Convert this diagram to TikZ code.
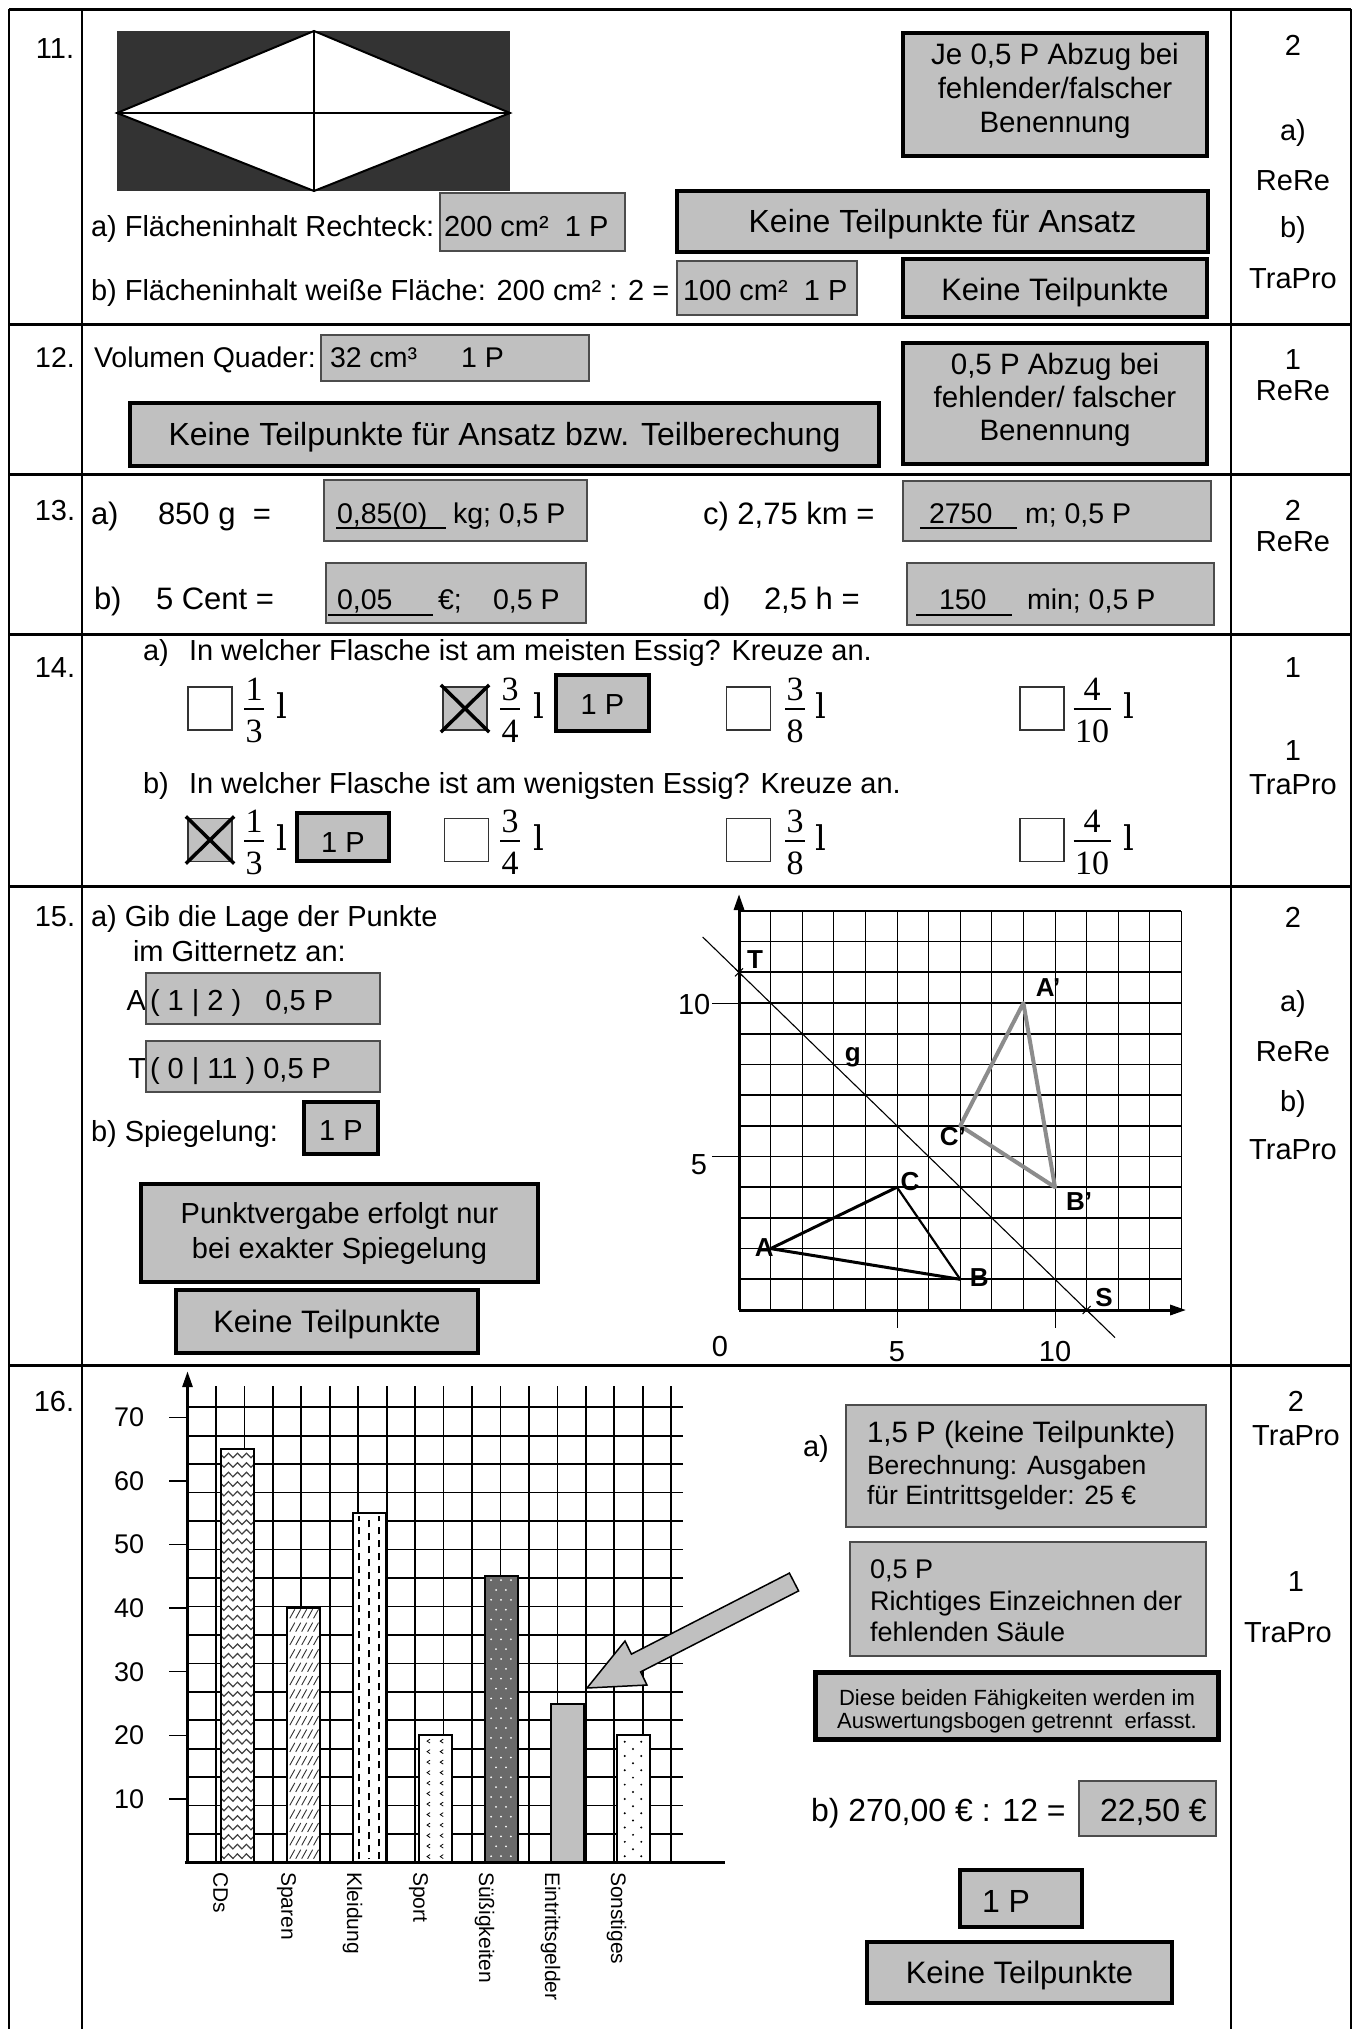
\documentclass[tikz,border=0pt]{standalone}
\usepackage{fontspec}
\setmainfont{Liberation Sans}
\newfontfamily\serifnum{Liberation Serif}
\newfontfamily\litrefont{DejaVu Serif}
\usetikzlibrary{arrows.meta,decorations.pathmorphing}
\definecolor{boxgray}{HTML}{C0C0C0}
\definecolor{figdark}{HTML}{333333}
\definecolor{mirgray}{HTML}{8C8C8C}
\definecolor{sweetgray}{HTML}{6A6A6A}
\newcommand{\fsz}[2]{\fontsize{#1}{#2}\selectfont}
% fraction: #1 name, #2 x, #3 bar y, #4 num, #5 den, #6 x of litre sign
\newcommand{\frc}[6]{%
  \node[fracnum] (#1n) at (#2,#3) {#4};
  \node[fracden] (#1d) at (#2,#3) {#5};
  \draw[line width=1.3pt] ([yshift=11pt,xshift=-1.5pt]#1d.north west) -- ([yshift=11pt,xshift=1.5pt]#1d.north east);
  \node[font=\litrefont\fsz{34}{38}, anchor=base] (#1l) at (#6,#3+9) {l};}
\begin{document}
\begin{tikzpicture}[x=1pt,y=-1pt,
  every node/.style={inner sep=0pt, outer sep=0pt},
  tb/.style={font=\fsz{29}{33}, anchor=base west},
  ctb/.style={font=\fsz{29}{33}, anchor=base},
  box/.style={draw=black!70, line width=1.3pt, fill=boxgray},
  tbox/.style={draw=black, line width=3.5pt, fill=boxgray},
  chk/.style={draw=black!80, line width=1.6pt, minimum width=44pt, minimum height=43pt, fill=white},
  fracnum/.style={font=\serifnum\fsz{34}{38}, anchor=base, yshift=9pt},
  fracden/.style={font=\serifnum\fsz{34}{38}, anchor=north, yshift=-11pt},
  tabline/.style={line width=2pt},
  rowline/.style={line width=3pt},
  lbl/.style={font=\fsz{26}{30}\bfseries, anchor=center},
  xmark/.style={line width=3.5pt, shorten <=-3pt, shorten >=-3pt},
  uline/.style={line width=1.8pt},
]
\useasboundingbox (0,0) rectangle (1361,2029);
\fill[white] (0,0) rectangle (1361,2029);

% ---------------- table ----------------
\draw[rowline] (9,9) -- (1351,9);
\foreach \yy in {324,474,634,886,1365} \draw[rowline] (9,\yy) -- (1351,\yy);
\foreach \xx in {9,82,1231,1351} \draw[tabline] (\xx,9) -- (\xx,2029);

\node[ctb] (n11) at (55,58) {11.};
\node[ctb, font=\fsz{28.5}{33}] (n12) at (55,367) {12.};
\node[ctb] (n13) at (55,520) {13.};
\node[ctb] (n14) at (55,677.5) {14.};
\node[ctb] (n15) at (55,926.5) {15.};
\node[ctb] (n16) at (54,1411) {16.};

% ---------------- row 11 ----------------
\fill[figdark] (117,31) rectangle (510,191);
\filldraw[fill=white, draw=black, line width=2pt] (117,113) -- (314,31) -- (510,113) -- (314,191) -- cycle;
\draw[line width=1.2pt] (314,31) -- (314,191);
\draw[line width=2pt] (117,113) -- (510,113);

\node[tbox, minimum width=304pt, minimum height=123pt] (r11note) at (1055,94.5) {};
\node[align=center, font=\fsz{29.5}{34}] (r11notet) at (1055,90.5) {Je 0,5 P Abzug bei\\fehlender/falscher\\Benennung};
\node[tb] (r11a) at (91,236) {a) Flächeninhalt Rechteck:};
\node[box, minimum width=185pt, minimum height=58pt] (r11aans) at (532.5,222) {};
\node[tb] (r11aanst) at (444,236) {200 cm²\ \ 1 P};
\node[tbox, minimum width=531pt, minimum height=61pt] (r11k1) at (942.5,221.5) {};
\node[ctb, font=\fsz{32}{36}] (r11k1t) at (942.5,232.5) {Keine Teilpunkte für Ansatz};
\node[tb] (r11b) at (91,300) {b) Flächeninhalt weiße Fläche: 200 cm² : 2 =};
\node[box, minimum width=180pt, minimum height=54pt] (r11bans) at (767,288) {};
\node[tb] (r11banst) at (683,300) {100 cm²\ \ 1 P};
\node[tbox, minimum width=304pt, minimum height=58pt] (r11k2) at (1055,288) {};
\node[ctb, font=\fsz{31}{35}] (r11k2t) at (1055,300) {Keine Teilpunkte};

\node[ctb] (p11a) at (1293,55) {2};
\node[ctb] (p11b) at (1293,140) {a)};
\node[ctb] (p11c) at (1293,190) {ReRe};
\node[ctb] (p11d) at (1293,237) {b)};
\node[ctb] (p11e) at (1293,288) {TraPro};

% ---------------- row 12 ----------------
\node[tb, font=\fsz{28.5}{33}] (r12t) at (94,367) {Volumen Quader:};
\node[box, minimum width=268pt, minimum height=46pt] (r12ans) at (455,358) {};
\node[tb, font=\fsz{28.5}{33}] (r12anst) at (330,367) {32 cm³\hspace{44pt}1 P};
\node[tbox, minimum width=749pt, minimum height=63pt] (r12k) at (504.5,434.5) {};
\node[ctb, font=\fsz{32}{36}] (r12kt) at (504.5,445) {Keine Teilpunkte für Ansatz bzw. Teilberechung};
\node[tbox, minimum width=304pt, minimum height=121pt] (r12note) at (1055,403.5) {};
\node[align=center, font=\fsz{29.5}{33}] (r12notet) at (1055,399.5) {0,5 P Abzug bei\\fehlender/ falscher\\Benennung};
\node[ctb] (p12a) at (1293,369) {1};
\node[ctb] (p12b) at (1293,400) {ReRe};

% ---------------- row 13 ----------------
\node[tb, font=\fsz{31}{35}] (r13a) at (91,524) {a)};
\node[tb, font=\fsz{31}{35}] (r13ae) at (158,524) {850 g\ \ =};
\node[box, minimum width=263pt, minimum height=61pt] (r13aans) at (455.5,510.5) {};
\node[tb, font=\fsz{28.5}{33}] (r13at1) at (337,523) {0,85(0)};
\draw[uline] (336,528) -- (446,528);
\node[tb, font=\fsz{28.5}{33}] (r13at2) at (453,523) {kg; 0,5 P};
\node[tb, font=\fsz{31}{35}] (r13c) at (703,524) {c) 2,75 km =};
\node[box, minimum width=308pt, minimum height=60pt] (r13cans) at (1057,511) {};
\node[tb, font=\fsz{28.5}{33}] (r13ct1) at (929,523) {2750};
\draw[uline] (920,528) -- (1017,528);
\node[tb, font=\fsz{28.5}{33}] (r13ct2) at (1025,523) {m; 0,5 P};
\node[tb, font=\fsz{31}{35}] (r13b) at (94,609) {b)};
\node[tb, font=\fsz{31}{35}] (r13be) at (156,609) {5 Cent =};
\node[box, minimum width=260pt, minimum height=60pt] (r13bans) at (456,593) {};
\node[tb, font=\fsz{28.5}{33}] (r13bt1) at (337,609) {0,05};
\draw[uline] (328,615) -- (433,615);
\node[tb, font=\fsz{28.5}{33}] (r13bt2) at (438,609) {€;};
\node[tb, font=\fsz{28.5}{33}] (r13bt3) at (493,609) {0,5 P};
\node[tb, font=\fsz{31}{35}] (r13d) at (703,609) {d)};
\node[tb, font=\fsz{31}{35}] (r13de) at (764,609) {2,5 h =};
\node[box, minimum width=307pt, minimum height=62pt] (r13dans) at (1060.5,594) {};
\node[tb, font=\fsz{28.5}{33}] (r13dt1) at (939,609) {150};
\draw[uline] (916,615) -- (1012,615);
\node[tb, font=\fsz{28.5}{33}] (r13dt2) at (1027,609) {min; 0,5 P};
\node[ctb] (p13a) at (1293,520) {2};
\node[ctb] (p13b) at (1293,551) {ReRe};

% ---------------- row 14 ----------------
\node[tb] (r14a) at (143,660.5) {a)};
\node[tb] (r14aq) at (189,660.5) {In welcher Flasche ist am meisten Essig? Kreuze an.};
\node[chk] (ca1) at (210,708.5) {};
\frc{fa1}{254}{709}{1}{3}{282}
\node[chk, fill=boxgray] (ca2) at (465,708.5) {};
\draw[xmark] (ca2.north west) -- (ca2.south east);
\draw[xmark] (ca2.north east) -- (ca2.south west);
\frc{fa2}{510}{709}{3}{4}{539}
\node[tbox, minimum width=93pt, minimum height=56pt] (pa2) at (602.5,703) {};
\node[ctb] (pa2t) at (602.5,714) {1 P};
\node[chk] (ca3) at (748.5,708.5) {};
\frc{fa3}{795}{709}{3}{8}{821}
\node[chk] (ca4) at (1042,708.5) {};
\frc{fa4}{1092}{709}{4}{10}{1129}

\node[tb] (r14b) at (143,793) {b)};
\node[tb] (r14bq) at (189,793) {In welcher Flasche ist am wenigsten Essig? Kreuze an.};
\node[chk, fill=boxgray] (cb1) at (210,840) {};
\draw[xmark] (cb1.north west) -- (cb1.south east);
\draw[xmark] (cb1.north east) -- (cb1.south west);
\frc{fb1}{254}{841}{1}{3}{282}
\node[tbox, minimum width=92pt, minimum height=48pt] (pb1) at (343,837) {};
\node[ctb] (pb1t) at (343,852) {1 P};
\node[chk] (cb2) at (466.5,840) {};
\frc{fb2}{510}{841}{3}{4}{539}
\node[chk] (cb3) at (748.5,840) {};
\frc{fb3}{795}{841}{3}{8}{821}
\node[chk] (cb4) at (1042,840) {};
\frc{fb4}{1092}{841}{4}{10}{1129}

\node[ctb] (p14a) at (1293,677.5) {1};
\node[ctb] (p14b) at (1293,760.5) {1};
\node[ctb] (p14c) at (1293,794.5) {TraPro};

% ---------------- row 15 ----------------
\node[tb] (r15a) at (91,926.5) {a) Gib die Lage der Punkte};
\node[tb] (r15a2) at (133,961.5) {im Gitternetz an:};
\node[font=\fsz{29}{33}, anchor=base east] (r15A) at (146,1010.5) {A};
\node[box, minimum width=234pt, minimum height=51pt] (r15Abox) at (263,998.5) {};
\node[tb] (r15At) at (150,1010.5) {( 1 | 2 )\ \ \ 0,5 P};
\node[font=\fsz{29}{33}, anchor=base east] (r15T) at (146,1078.5) {T};
\node[box, minimum width=234pt, minimum height=51pt] (r15Tbox) at (263,1066.5) {};
\node[tb] (r15Tt) at (150,1078.5) {( 0 | 11 ) 0,5 P};
\node[tb] (r15b) at (91,1141) {b) Spiegelung:};
\node[tbox, minimum width=74pt, minimum height=52pt] (r15bp) at (341,1128) {};
\node[ctb] (r15bpt) at (341,1140) {1 P};
\node[tbox, minimum width=397pt, minimum height=98pt] (r15note) at (339.5,1233) {};
\node[align=center, font=\fsz{29}{35}] (r15notet) at (339.5,1233) {Punktvergabe erfolgt nur\\bei exakter Spiegelung};
\node[tbox, minimum width=302pt, minimum height=63pt] (r15k) at (327,1321.5) {};
\node[ctb, font=\fsz{31}{35}] (r15kt) at (327,1332) {Keine Teilpunkte};

\begin{scope}[shift={(739,1310)}, x=31.6pt, y=30.7pt]
  \foreach \i in {1,...,14} \draw[line width=1pt] (\i,0) -- (\i,13);
  \foreach \j in {1,...,13} \draw[line width=1.7pt] (0,\j) -- (14,\j);
  \draw[line width=3pt, -{Triangle[length=16pt,width=10pt]}] (0,0) -- (14.15,0);
  \draw[line width=3pt, -{Triangle[length=16pt,width=10pt]}] (0,0) -- (0,13.55);
  \draw[line width=1pt] (-0.85,10) -- (0,10);
  \draw[line width=1pt] (-0.85,5) -- (0,5);
  \draw[line width=1pt] (5,0) -- (5,-0.6);
  \draw[line width=1pt] (10,0) -- (10,-0.6);
  \node[font=\fsz{29}{33}] (gx0) at (-0.6,-1.2) {0};
  \node[font=\fsz{29}{33}] (gx5) at (5,-1.36) {5};
  \node[font=\fsz{29}{33}] (gx10) at (10,-1.36) {10};
  \node[font=\fsz{29}{33}] (gy10) at (-1.42,9.95) {10};
  \node[font=\fsz{29}{33}] (gy5) at (-1.27,4.72) {5};
  \coordinate (A) at (1,2);
  \coordinate (B) at (7,1);
  \coordinate (C) at (5,4);
  \coordinate (Ap) at (9,10);
  \coordinate (Bp) at (10,4);
  \coordinate (Cp) at (7,6);
  \coordinate (T) at (0,11);
  \coordinate (S) at (11,0);
  \coordinate (g1) at (-1.15,12.15);
  \coordinate (g2) at (11.9,-0.9);
  \draw[line width=1.1pt] (g1) -- (g2);
  \draw[line width=1pt] ([shift={(-4pt,-4pt)}]T) -- ([shift={(4pt,4pt)}]T) ([shift={(-4pt,4pt)}]T) -- ([shift={(4pt,-4pt)}]T);
  \draw[line width=1pt] ([shift={(-4pt,-4pt)}]S) -- ([shift={(4pt,4pt)}]S) ([shift={(-4pt,4pt)}]S) -- ([shift={(4pt,-4pt)}]S);
  \draw[line width=3pt, line join=round] (A) -- (C);
  \draw[line width=3pt, line join=round] (A) -- (B);
  \draw[line width=2.2pt, line join=round] (C) -- (B);
  \draw[mirgray, line width=4pt, line join=round] (Ap) -- (Bp) -- (Cp) -- cycle;
  \node[lbl] (lA) at (0.8,2.05) {A};
  \node[lbl] (lB) at (7.6,1.07) {B};
  \node[lbl] (lC) at (5.41,4.17) {C};
  \node[lbl] (lAp) at (9.78,10.49) {A’};
  \node[lbl] (lBp) at (10.76,3.52) {B’};
  \node[lbl] (lCp) at (6.77,5.64) {C’};
  \node[lbl] (lT) at (0.51,11.4) {T};
  \node[lbl] (lS) at (11.55,0.39) {S};
  \node[lbl] (lg) at (3.6,8.24) {g};
\end{scope}

\node[ctb] (p15a) at (1293,927) {2};
\node[ctb] (p15b) at (1293,1011) {a)};
\node[ctb] (p15c) at (1293,1061) {ReRe};
\node[ctb] (p15d) at (1293,1111) {b)};
\node[ctb] (p15e) at (1293,1159) {TraPro};

% ---------------- row 16 ----------------
\begin{scope}[shift={(187.5,1862.5)}, x=33pt, y=31.8pt]
  \draw[line width=1.7pt] (0,0) grid (15,15);
  % CDs
  \fill[white] (1,0) rectangle (2,13);
  \begin{scope}
    \clip (1,0) rectangle (2,13);
    \foreach \rr in {0,...,43}
      \draw[black!75, line width=1.2pt, decorate, decoration={zigzag, amplitude=2.3pt, segment length=9pt}] (0.9,0.2+\rr*0.3) -- (2.1,0.2+\rr*0.3);
  \end{scope}
  \draw[line width=2pt] (1,0) rectangle (2,13);
  % Sparen
  \fill[white] (3,0) rectangle (4,8);
  \begin{scope}
    \clip (3,0) rectangle (4,8);
    \foreach \rr in {0,...,18}
      \foreach \ss in {0.1,0.28,0.46,0.64,0.82}
        \draw[black!80, line width=0.9pt] (3+\ss,0.12+\rr*0.42) -- ++(5pt,9pt);
  \end{scope}
  \draw[line width=2pt] (3,0) rectangle (4,8);
  % Kleidung
  \fill[white] (5,0) rectangle (6,11);
  \foreach \ss in {0.2,0.8}
    \draw[line width=2pt, dash pattern=on 7pt off 6pt] (5+\ss,0.1) -- (5+\ss,10.9);
  \draw[line width=2pt, dash pattern=on 7pt off 6pt, dash phase=6pt] (5.5,0.1) -- (5.5,10.9);
  \draw[line width=2pt] (5,0) rectangle (6,11);
  % Sport
  \fill[white] (7,0) rectangle (8,4);
  \begin{scope}
    \clip (7,0) rectangle (8,4);
    \foreach \rr in {0,...,11}
      \foreach \ss in {0.3,0.7}
        \draw[line width=0.8pt] (7+\ss+0.05,0.25+\rr*0.33) -- ++(-3pt,-2pt) -- ++(3pt,-2pt);
  \end{scope}
  \draw[line width=2pt] (7,0) rectangle (8,4);
  % Suessigkeiten
  \fill[sweetgray] (9,0) rectangle (10,9);
  \begin{scope}
    \clip (9,0) rectangle (10,9);
    \foreach \rr in {0,...,14}
      \foreach \ss in {0.2,0.5,0.8}
        \fill[white] (9+\ss,0.2+\rr*0.62) circle (1pt);
    \foreach \rr in {0,...,14}
      \foreach \ss in {0.35,0.65}
        \fill[white] (9+\ss,0.51+\rr*0.62) circle (1pt);
  \end{scope}
  \draw[line width=2pt] (9,0) rectangle (10,9);
  % Eintrittsgelder
  \filldraw[fill=boxgray, line width=2pt] (11,0) rectangle (12,5);
  % Sonstiges
  \fill[white] (13,0) rectangle (14,4);
  \foreach \rr in {0,...,8}
    \foreach \ss in {0.25,0.75}
      \fill (13+\ss,0.2+\rr*0.45) circle (1.1pt);
  \foreach \rr in {0,...,7}
    \fill (13.5,0.42+\rr*0.45) circle (1.1pt);
  \draw[line width=2pt] (13,0) rectangle (14,4);
  % axes
  \draw[line width=3pt] (-0.08,0) -- (16.3,0);
  \draw[line width=3pt, -{Triangle[length=16pt,width=10pt]}] (0,0) -- (0,15.45);
  \foreach \j/\v in {2/10,4/20,6/30,8/40,10/50,12/60,14/70} {
    \draw[line width=1.3pt] (-0.56,\j) -- (0,\j);
    \node[font=\fsz{27}{30}] (yl\v) at (-1.77,\j) {\v};
  }
  \node[font=\fsz{21}{24}, rotate=-90, anchor=west] (cat1) at (1,-0.3) {CDs};
  \node[font=\fsz{21}{24}, rotate=-90, anchor=west] (cat2) at (3,-0.3) {Sparen};
  \node[font=\fsz{21}{24}, rotate=-90, anchor=west] (cat3) at (5,-0.3) {Kleidung};
  \node[font=\fsz{21}{24}, rotate=-90, anchor=west] (cat4) at (7,-0.3) {Sport};
  \node[font=\fsz{21}{24}, rotate=-90, anchor=west] (cat5) at (9,-0.3) {Süßigkeiten};
  \node[font=\fsz{21}{24}, rotate=-90, anchor=west] (cat6) at (11,-0.3) {Eintrittsgelder};
  \node[font=\fsz{21}{24}, rotate=-90, anchor=west] (cat7) at (13,-0.3) {Sonstiges};
\end{scope}

% block arrow
\filldraw[fill=boxgray, draw=black, line width=1.5pt, line join=miter]
  (587,1688) -- (647,1685) -- (640.6,1671.9) -- (798.6,1590.9) -- (789.4,1573.1) -- (631.4,1654.1) -- (625,1641) -- cycle;

\node[ctb] (r16a) at (816,1456) {a)};
\node[box, minimum width=360pt, minimum height=122pt] (r16box1) at (1026,1466) {};
\node[tb, font=\fsz{29.5}{33}] (r16b1l1) at (867,1442) {1,5 P (keine Teilpunkte)};
\node[tb, font=\fsz{26.5}{30}] (r16b1l2) at (867,1474) {Berechnung: Ausgaben};
\node[tb, font=\fsz{26.5}{30}] (r16b1l3) at (867,1504) {für Eintrittsgelder: 25 €};
\node[box, minimum width=356pt, minimum height=114pt] (r16box2) at (1028,1599) {};
\node[tb, font=\fsz{27}{31}] (r16b2l1) at (870,1578) {0,5 P};
\node[tb, font=\fsz{27}{31}] (r16b2l2) at (870,1610) {Richtiges Einzeichnen der};
\node[tb, font=\fsz{27}{31}] (r16b2l3) at (870,1641) {fehlenden Säule};
\node[draw=black, line width=5pt, fill=boxgray, minimum width=403pt, minimum height=67pt] (r16box3) at (1017,1706) {};
\begin{scope}
  \clip (818,1673) rectangle (1216,1733);
  \node[ctb, font=\fsz{22}{25}] (r16b3l1) at (1017,1705) {Diese beiden Fähigkeiten werden im};
  \node[ctb, font=\fsz{22}{25}] (r16b3l2) at (1017,1728) {Auswertungsbogen getrennt\ \ erfasst.};
\end{scope}
\node[tb, font=\fsz{32}{36}] (r16b) at (811,1821) {b) 270,00 € : 12 =};
\node[box, minimum width=137pt, minimum height=55pt] (r16bans) at (1147.5,1808.5) {};
\node[tb, font=\fsz{32}{36}] (r16banst) at (1100,1821) {22,50 €};
\node[tbox, minimum width=122pt, minimum height=57pt] (r16p) at (1021,1898.5) {};
\node[tb, font=\fsz{32}{36}] (r16pt) at (982,1912) {1 P};
\node[tbox, minimum width=305pt, minimum height=61pt] (r16k) at (1019.5,1972.5) {};
\node[ctb, font=\fsz{31}{35}] (r16kt) at (1019.5,1983) {Keine Teilpunkte};

\node[ctb] (p16a) at (1296,1411) {2};
\node[ctb] (p16b) at (1296,1445) {TraPro};
\node[ctb] (p16c) at (1296,1591.5) {1};
\node[ctb] (p16d) at (1288,1642.5) {TraPro};
\end{tikzpicture}
\end{document}
